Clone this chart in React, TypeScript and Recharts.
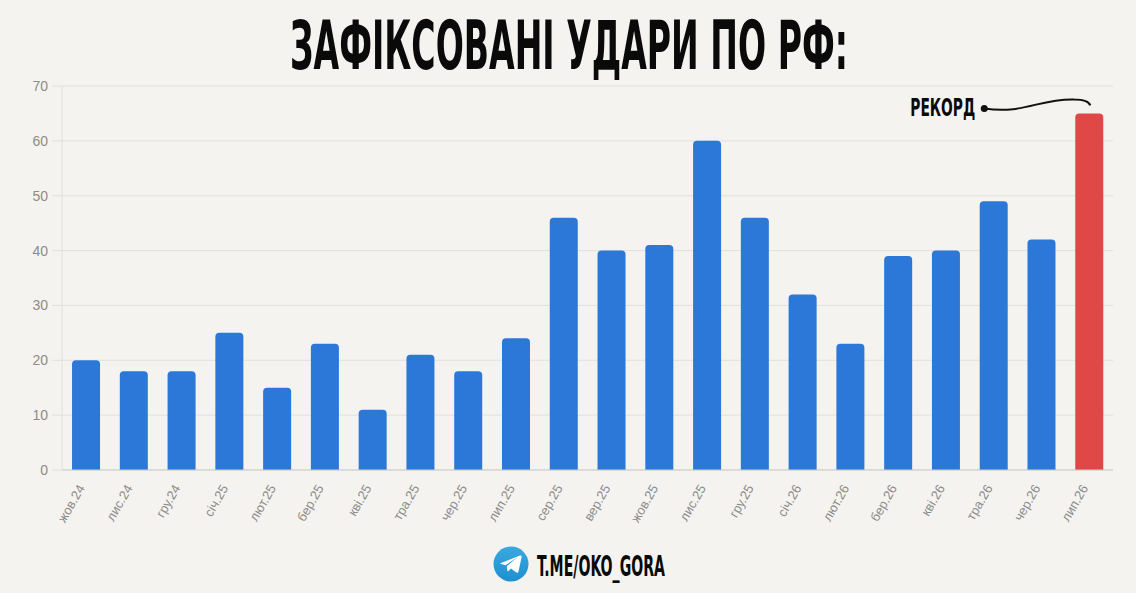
import { useLayoutEffect, useRef, useState } from "react";
import { Bar, BarChart, CartesianGrid, Cell, LabelList, XAxis, YAxis } from "recharts";

const months = [
  "жов.24", "лис.24", "гру.24", "січ.25", "лют.25", "бер.25", "кві.25", "тра.25",
  "чер.25", "лип.25", "сер.25", "вер.25", "жов.25", "лис.25", "гру.25", "січ.26",
  "лют.26", "бер.26", "кві.26", "тра.26", "чер.26", "лип.26",
];
const strikes = [20, 18, 18, 25, 15, 23, 11, 21, 18, 24, 46, 40, 41, 60, 46, 32, 23, 39, 40, 49, 42, 65];
const yTicks = [0, 10, 20, 30, 40, 50, 60, 70];

const data = months.map((month, i) => ({ month, strikes: strikes[i] }));
const lastIndex = strikes.length - 1;

const BG = "#f4f3ef";
const BLUE = "#2b78d8";
const RED = "#e04848";
const GREY = "#8c8c8c";
const HEAVY = "'Liberation Sans Narrow', 'DejaVu Sans Condensed', 'DejaVu Sans', sans-serif";

// squeezes a heavy text to a given width (poor man's condensed font)
function SqueezedText({ x, y, width, size, anchor = "start", children }: any) {
  const ref = useRef<SVGTextElement>(null);
  const [sx, setSx] = useState(1);
  useLayoutEffect(() => {
    if (ref.current) {
      const w = ref.current.getComputedTextLength();
      if (w > 0) setSx(width / w);
    }
  }, [width]);
  return (
    <g transform={`translate(${x},${y}) scale(${sx},1)`}>
      <text ref={ref} x={0} y={0} textAnchor={anchor} fontFamily={HEAVY} fontWeight="bold" fontSize={size} fill="#0a0a0a">
        {children}
      </text>
    </g>
  );
}

function MonthTick(props: any) {
  const { x, y, payload } = props;
  return (
    <g transform={`translate(${x - 4},${y + 6})`}>
      <text
        x={0}
        y={0}
        dy={4}
        textAnchor="end"
        transform="rotate(-60)"
        fill={GREY}
        fontSize={13}
        fontFamily="'Liberation Sans', Arial, sans-serif"
      >
        {payload.value}
      </text>
    </g>
  );
}

// annotation on the record bar
function RecordNote(props: any) {
  const { x, y, width, index } = props;
  if (index !== lastIndex) return null;
  const cx = x + width / 2;
  const dx = cx - 105;
  const dy = y - 5;
  return (
    <g>
      <SqueezedText x={cx - 114} y={y + 3} width={65} size={25} anchor="end">
        РЕКОРД
      </SqueezedText>
      <circle cx={dx} cy={dy} r={3.5} fill="#111" />
      <path
        d={`M ${dx} ${dy} C ${cx - 65} ${y + 1}, ${cx - 50} ${y - 15}, ${cx - 15} ${y - 14} Q ${cx - 1} ${y - 14}, ${cx + 1} ${y - 8}`}
        fill="none"
        stroke="#111"
        strokeWidth={2}
      />
    </g>
  );
}

export default function App() {
  return (
    <div style={{ position: "fixed", left: 0, top: 0, width: 1136, height: 593, background: BG }}>
      <div style={{ position: "absolute", left: 0, top: 0 }}>
        <BarChart
          width={1136}
          height={593}
          data={data}
          margin={{ top: 86, right: 23, bottom: 0, left: 0 }}
          barCategoryGap="21%"
        >
          <CartesianGrid vertical={false} stroke="#e2e0dc" />
          <XAxis
            dataKey="month"
            interval={0}
            height={123}
            tickLine={false}
            tickSize={6}
            tickMargin={4}
            axisLine={{ stroke: "#cfcdca" }}
            tick={<MonthTick />}
          />
          <YAxis
            width={62}
            domain={[0, 70]}
            ticks={yTicks}
            tickSize={10}
            tickMargin={4}
            tickLine={{ stroke: "#e2e0dc" }}
            axisLine={{ stroke: "#e2e0dc" }}
            tick={{ fill: GREY, fontSize: 14, fontFamily: "'Liberation Sans', Arial, sans-serif" }}
          />
          <Bar dataKey="strikes" radius={[4, 4, 0, 0]} isAnimationActive={false}>
            {data.map((_, i) => (
              <Cell key={i} fill={i === lastIndex ? RED : BLUE} />
            ))}
            <LabelList dataKey="strikes" content={<RecordNote />} />
          </Bar>
        </BarChart>
      </div>
      <svg width={1136} height={593} style={{ position: "absolute", left: 0, top: 0, pointerEvents: "none" }}>
        <SqueezedText x={569} y={69} width={558} size={67} anchor="middle">
          ЗАФІКСОВАНІ УДАРИ ПО РФ:
        </SqueezedText>
        <defs>
          <linearGradient id="tg" x1="0" y1="0" x2="0" y2="1">
            <stop offset="0%" stopColor="#3aa9e0" />
            <stop offset="100%" stopColor="#1f8fcf" />
          </linearGradient>
        </defs>
        <circle cx={511} cy={564} r={17.5} fill="url(#tg)" />
        <path
          d="M 501 563 L 520 555.5 Q 522 555 521.5 557.5 L 518.5 571.5 Q 518 573.5 516 572.3 L 511 568.5 L 508.5 571 Q 507.5 571.8 507.3 570.5 L 506.8 566.3 L 517 557.5 L 505.5 565.3 L 501.3 564 Q 499.5 563.4 501 563 Z"
          fill="#ffffff"
        />
        <SqueezedText x={537} y={576} width={128} size={28}>
          T.ME/OKO_GORA
        </SqueezedText>
      </svg>
    </div>
  );
}
